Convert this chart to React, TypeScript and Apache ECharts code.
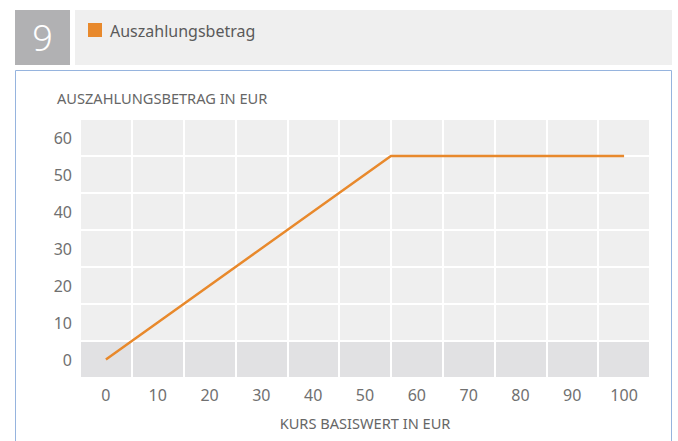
import React, { useEffect, useRef } from "react";
import * as echarts from "echarts";

const xLabels = ["0", "10", "20", "30", "40", "50", "60", "70", "80", "90", "100"];
const yLabels = ["0", "10", "20", "30", "40", "50", "60"];
const priceValues = [0, 55, 100];
const payoutValues = [0, 55, 55];
const seriesName = "Auszahlungsbetrag";
const yTitle = "AUSZAHLUNGSBETRAG IN EUR";
const xTitle = "KURS BASISWERT IN EUR";
const panelNumber = "9";

const FONT = "'Noto Sans', sans-serif";
const ORANGE = "#e8892c";
const LABEL = "#707070";

export default function App() {
  const ref = useRef<HTMLDivElement>(null);
  useEffect(() => {
    if (!ref.current) return;
    const chart = echarts.init(ref.current, undefined, { renderer: "svg" });
    const rowColors = yLabels.map((_, i) => (i === 0 ? "#e1e1e3" : "#efefef"));
    chart.setOption({
      animation: false,
      backgroundColor: "#ffffff",
      textStyle: { fontFamily: FONT },
      grid: { left: 80, right: 28, top: 119, bottom: 63, containLabel: false },
      xAxis: [
        {
          type: "category",
          data: xLabels,
          boundaryGap: true,
          z: 1,
          axisLine: { show: false },
          axisTick: { show: false },
          axisLabel: { interval: 0, color: LABEL, fontSize: 16, margin: 9, fontFamily: FONT },
          splitLine: { show: true, interval: 0, lineStyle: { color: "#ffffff", width: 2 } },
        },
        { type: "value", min: -5, max: 105, show: false },
      ],
      yAxis: [
        {
          type: "category",
          data: yLabels,
          boundaryGap: true,
          axisLine: { show: false },
          axisTick: { show: false },
          axisLabel: { interval: 0, color: LABEL, fontSize: 16, margin: 8, fontFamily: FONT },
          splitLine: { show: true, interval: 0, lineStyle: { color: "#ffffff", width: 2 } },
          splitArea: { show: true, interval: 0, areaStyle: { color: rowColors } },
        },
        { type: "value", min: -5, max: 65, show: false },
      ],
      series: [
        {
          type: "line",
          name: seriesName,
          xAxisIndex: 1,
          yAxisIndex: 1,
          data: priceValues.map((x, i) => [x, payoutValues[i]]),
          symbol: "none",
          lineStyle: { color: ORANGE, width: 2.5 },
          z: 5,
        },
      ],
      graphic: [
        { type: "rect", left: 15, top: 10, shape: { width: 55, height: 55 }, style: { fill: "#b1b1b3" } },
        {
          type: "text",
          x: 42.5,
          y: 37,
          style: { text: panelNumber, fill: "#ffffff", fontSize: 36, fontFamily: FONT, fontWeight: 300, align: "center", verticalAlign: "middle" },
        },
        { type: "rect", left: 75, top: 10, shape: { width: 597, height: 55 }, style: { fill: "#efefef" } },
        { type: "rect", left: 88, top: 23, shape: { width: 14, height: 14 }, style: { fill: ORANGE } },
        {
          type: "text",
          x: 110,
          y: 31,
          style: { text: seriesName, fill: "#5a5a5a", fontSize: 16, fontFamily: FONT, verticalAlign: "middle" },
        },
        {
          type: "rect",
          shape: { x: 15.5, y: 70.5, width: 656, height: 400 },
          style: { fill: "none", stroke: "#96b4de", lineWidth: 1 },
        },
        {
          type: "text",
          x: 57,
          y: 98,
          style: { text: yTitle, fill: "#666666", fontSize: 14.6, fontFamily: FONT, verticalAlign: "middle" },
        },
        {
          type: "text",
          x: 365,
          y: 423,
          style: { text: xTitle, fill: "#666666", fontSize: 14.6, fontFamily: FONT, align: "center", verticalAlign: "middle" },
        },
      ],
    });
    return () => chart.dispose();
  }, []);
  return (
    <div
      ref={ref}
      style={{ position: "absolute", left: 0, top: 0, width: 678, height: 441 }}
    />
  );
}
